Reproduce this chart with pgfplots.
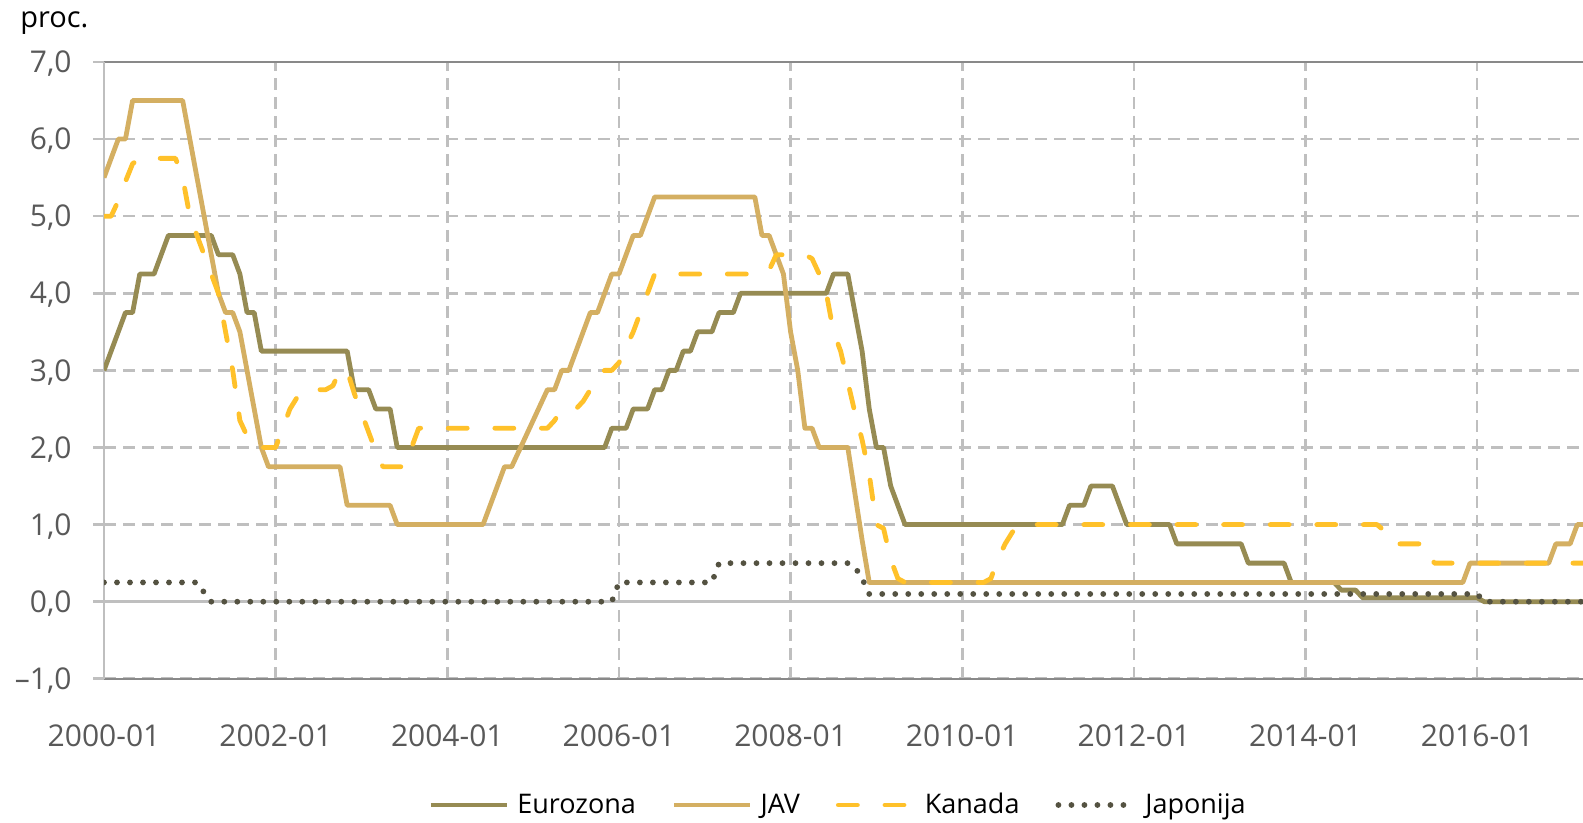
\documentclass[border=0pt]{standalone}
\usepackage{fontspec}
\setmainfont{Open Sans}
\usepackage{pgfplots}
\pgfplotsset{compat=1.18}
\definecolor{euro}{HTML}{968B53}
\definecolor{jav}{HTML}{D4AF62}
\definecolor{kan}{HTML}{FFC12A}
\definecolor{jap}{HTML}{545241}
\definecolor{gridgray}{HTML}{BFBFBF}
\definecolor{axisdark}{HTML}{898989}
\definecolor{ticklbl}{HTML}{595959}
\begin{document}
\begin{tikzpicture}
\useasboundingbox (0,0) rectangle (791.5pt,411.5pt);
\begin{axis}[
  at={(52pt,72.1pt)}, anchor=south west,
  scale only axis, width=739.5pt, height=308.4pt,
  xmin=0, xmax=206.8, ymin=-1, ymax=7,
  axis y line*=left,
  x axis line style={draw=axisdark, line width=1.1pt},
  y axis line style={-, draw=gridgray, line width=1.3pt},
  xtick={0,24,48,72,96,120,144,168,192},
  xticklabels={2000-01,2002-01,2004-01,2006-01,2008-01,2010-01,2012-01,2014-01,2016-01},
  ytick={-1,0,1,2,3,4,5,6,7},
  yticklabels={{–1,0},{0,0},{1,0},{2,0},{3,0},{4,0},{5,0},{6,0},{7,0}},
  tick align=outside,
  major tick length=5.5pt,
  xtick style={draw=none},
  ytick style={draw=gridgray, line width=1.3pt},
  grid=major,
  major grid style={draw=gridgray, line width=1.3pt, dash pattern=on 6pt off 3.5pt},
  extra y ticks={0},
  extra y tick labels={},
  extra y tick style={grid=major, major grid style={draw=gridgray, solid, line width=1.6pt}, tick style={draw=none}},
  yticklabel style={font=\fontsize{15pt}{18pt}\selectfont, text=ticklbl, anchor=east, text height=10.7pt, text depth=0pt, inner sep=0pt, xshift=-10.5pt},
  xticklabel style={font=\fontsize{15pt}{18pt}\selectfont, text=ticklbl, anchor=north, text height=10.7pt, text depth=0pt, inner sep=0pt, yshift=-17.6pt},
  legend style={at={(0.497,-0.2046)}, anchor=center, draw=none, fill=none,
    font=\fontsize{13.5pt}{16pt}\selectfont, text=black,
    /tikz/every odd column/.append style={column sep=2pt},
    /tikz/every even column/.append style={column sep=16pt}},
  legend columns=4,
  legend image code/.code={\draw[#1] (0pt,0pt) -- (38pt,0pt);},
]
\addplot[euro, line width=2.4pt, line join=round] coordinates {
(0,3.0)(1,3.25)(2,3.5)(3,3.75)(4,3.75)(5,4.25)(7,4.25)(8,4.5)(9,4.75)(15,4.75)(16,4.5)(18,4.5)(19,4.25)(20,3.75)(21,3.75)(22,3.25)(34,3.25)(35,2.75)(37,2.75)(38,2.5)(40,2.5)(41,2.0)(70,2.0)(71,2.25)(73,2.25)(74,2.5)(76,2.5)(77,2.75)(78,2.75)(79,3.0)(80,3.0)(81,3.25)(82,3.25)(83,3.5)(85,3.5)(86,3.75)(88,3.75)(89,4.0)(101,4.0)(102,4.25)(104,4.25)(105,3.75)(106,3.25)(107,2.5)(108,2.0)(109,2.0)(110,1.5)(111,1.25)(112,1.0)(134,1.0)(135,1.25)(137,1.25)(138,1.5)(141,1.5)(142,1.25)(143,1.0)(149,1.0)(150,0.75)(159,0.75)(160,0.5)(165,0.5)(166,0.25)(172,0.25)(173,0.15)(175,0.15)(176,0.05)(192,0.05)(193,0.0)(209,0.0)
};
\addlegendentry{Eurozona}
\addplot[jav, line width=2.4pt, line join=round] coordinates {
(0,5.5)(1,5.75)(2,6.0)(3,6.0)(4,6.5)(11,6.5)(12,6.0)(13,5.5)(14,5.0)(15,4.5)(16,4.0)(17,3.75)(18,3.75)(19,3.5)(20,3.0)(21,2.5)(22,2.0)(23,1.75)(33,1.75)(34,1.25)(40,1.25)(41,1.0)(53,1.0)(54,1.25)(55,1.5)(56,1.75)(57,1.75)(58,1.95)(59,2.15)(60,2.35)(61,2.55)(62,2.75)(63,2.75)(64,3.0)(65,3.0)(66,3.25)(67,3.5)(68,3.75)(69,3.75)(70,4.0)(71,4.25)(72,4.25)(73,4.5)(74,4.75)(75,4.75)(76,5.0)(77,5.25)(91,5.25)(92,4.75)(93,4.75)(94,4.5)(95,4.25)(96,3.5)(97,3.0)(98,2.25)(99,2.25)(100,2.0)(104,2.0)(105,1.4)(106,0.8)(107,0.25)(190,0.25)(191,0.5)(202,0.5)(203,0.75)(205,0.75)(206,1.0)(208,1.0)(209,1.25)
};
\addlegendentry{JAV}
\addplot[kan, line width=2.4pt, line cap=round, line join=round, dash pattern=on 9.5pt off 13.8pt] coordinates {
(0,5.0)(1,5.0)(2,5.2)(3,5.45)(4,5.68)(5,5.75)(10,5.75)(11,5.5)(12,5.0)(13,4.75)(14,4.5)(15,4.25)(16,4.0)(17,3.5)(18,3.0)(19,2.35)(20,2.15)(21,2.0)(24,2.0)(25,2.25)(26,2.5)(27,2.65)(28,2.75)(31,2.75)(32,2.8)(33,3.0)(34,3.0)(35,2.7)(36,2.45)(37,2.2)(38,1.95)(39,1.75)(42,1.75)(43,2.0)(44,2.25)(62,2.25)(63,2.35)(64,2.5)(66,2.5)(67,2.6)(68,2.75)(69,2.95)(70,3.0)(71,3.0)(72,3.1)(73,3.3)(74,3.5)(75,3.75)(76,4.0)(77,4.25)(92,4.25)(93,4.3)(94,4.5)(98,4.5)(99,4.45)(100,4.25)(101,4.0)(102,3.5)(103,3.25)(104,2.85)(105,2.45)(106,2.1)(107,1.65)(108,1.0)(109,0.95)(110,0.55)(111,0.3)(112,0.25)(123,0.25)(124,0.3)(125,0.55)(126,0.75)(127,0.9)(128,1.0)(178,1.0)(179,0.92)(180,0.75)(185,0.75)(186,0.5)(209,0.5)
};
\addlegendentry{Kanada}
\addplot[jap, line width=2.9pt, line cap=round, dash pattern=on 0pt off 6.5pt] coordinates {
(0,0.25)(13,0.25)(14,0.12)(15,0.0)(71,0.0)(72,0.25)(85,0.25)(86,0.5)(104,0.5)(105,0.45)(106,0.3)(107,0.1)(192,0.1)(193,0.0)(209,0.0)
};
\addlegendentry{Japonija}
\end{axis}
\node[anchor=base west, inner sep=0pt, font=\fontsize{14.5pt}{17pt}\selectfont] at (10pt,397.5pt) {proc.};
\end{tikzpicture}
\end{document}
